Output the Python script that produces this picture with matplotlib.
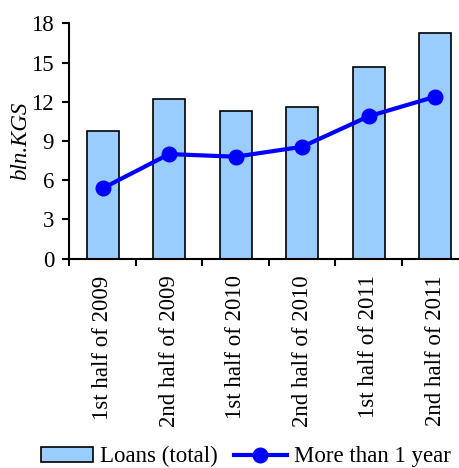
import matplotlib.pyplot as plt
import numpy as np

categories = ['1st half of 2009', '2nd half of 2009', '1st half of 2010',
              '2nd half of 2010', '1st half of 2011', '2nd half of 2011']
loans_total = [9.74, 12.21, 11.29, 11.60, 14.66, 17.23]
more_than_1y = [5.38, 8.00, 7.80, 8.56, 10.89, 12.39]

plt.rcParams['font.family'] = ['Liberation Serif', 'DejaVu Serif']
plt.rcParams['font.size'] = 16.5

fig = plt.figure(figsize=(4.59, 4.68), dpi=100)
ax = fig.add_axes([0.151, 0.4472, 0.8697, 0.503])

x = np.arange(len(categories))
bars = ax.bar(x, loans_total, width=0.48, color='#99CCFF', edgecolor='black',
              linewidth=1.2, label='Loans (total)', zorder=2)
line, = ax.plot(x, more_than_1y, color='#0000FF', linewidth=3, marker='o',
                markersize=10.5, label='More than 1 year', zorder=3)

ax.set_xlim(-0.5, len(categories) - 0.5)
ax.set_ylim(0, 18)
ax.set_yticks(np.arange(0, 19, 3))

ax.set_xticks(x)
ax.set_xticklabels(categories, rotation=90)
ax.set_xticks(np.arange(-0.5, len(categories), 1), minor=True)
ax.tick_params(axis='x', which='major', length=0, pad=12)
ax.tick_params(axis='x', which='minor', length=5, width=1.5, direction='out')
ax.tick_params(axis='y', length=5, width=1.5, direction='out', pad=6)

for side in ['top', 'right']:
    ax.spines[side].set_visible(False)
for side in ['left', 'bottom']:
    ax.spines[side].set_linewidth(1.5)

ax.set_ylabel('bln.KGS', style='italic', labelpad=0)

fig.legend([bars, line], ['Loans (total)', 'More than 1 year'],
           loc='center', bbox_to_anchor=(0.535, 0.024), ncol=2, frameon=False,
           handlelength=2.3, handleheight=0.6, handletextpad=0.3,
           columnspacing=0.7, borderpad=0, borderaxespad=0)

fig.savefig('out.png', dpi=100)
